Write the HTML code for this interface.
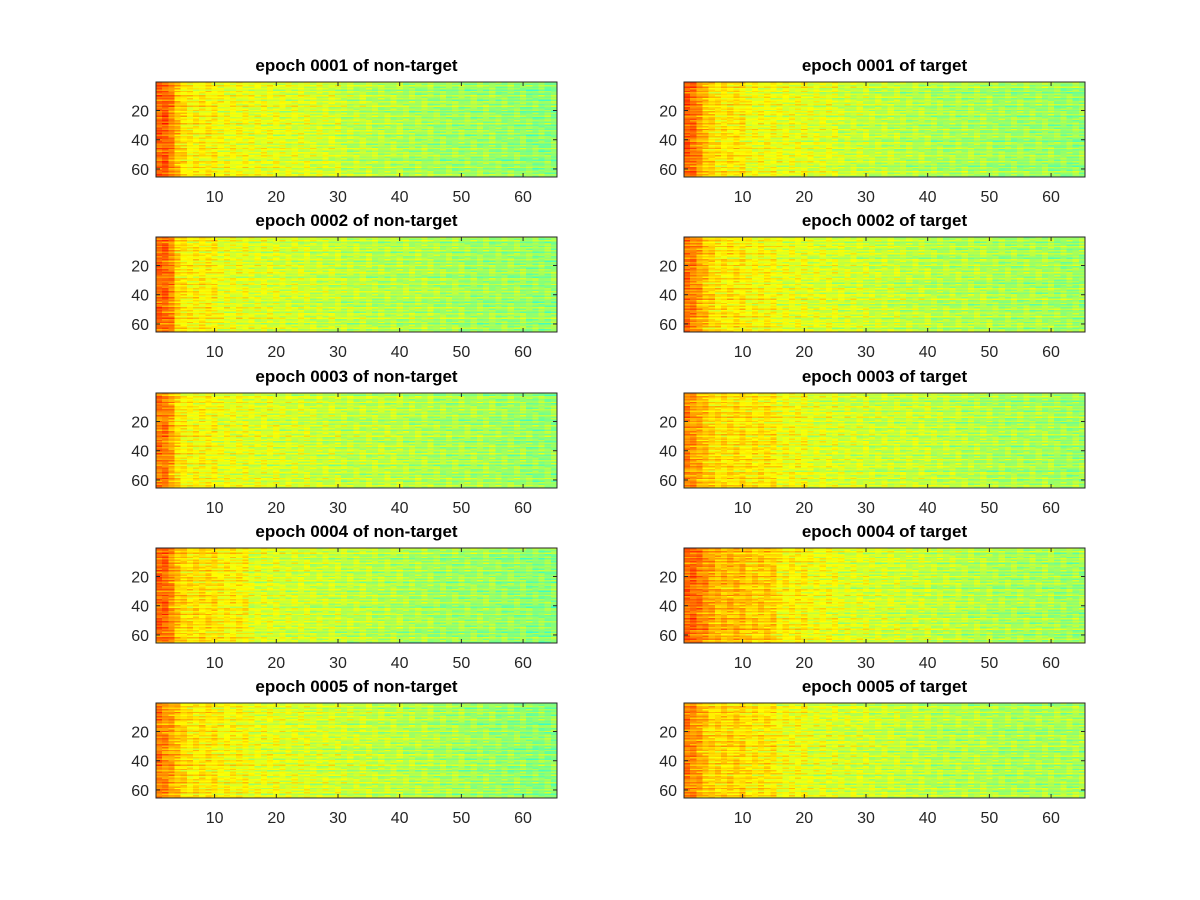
<!DOCTYPE html>
<html><head><meta charset="utf-8">
<style>
html,body{margin:0;padding:0;background:#fff;}
#fig{position:relative;width:1200px;height:900px;background:#fff;font-family:"Liberation Sans",sans-serif;}
canvas{position:absolute;image-rendering:pixelated;}
svg{position:absolute;left:0;top:0;}
</style></head>
<body>
<div id="fig">
<svg id="axes" width="1200" height="900"></svg>
</div>
<script>
// ---- data ----
const panelTitles = ["epoch 0001 of non-target","epoch 0001 of target","epoch 0002 of non-target","epoch 0002 of target","epoch 0003 of non-target","epoch 0003 of target","epoch 0004 of non-target","epoch 0004 of target","epoch 0005 of non-target","epoch 0005 of target"];
const xTicks = [10,20,30,40,50,60];
const yTicks = [20,40,60];
// levels for first 5 columns per panel
const leadLevels = [
 [0.77,0.78,0.74,0.68,0.65],[0.78,0.76,0.72,0.68,0.66],
 [0.77,0.77,0.74,0.66,0.64],[0.76,0.74,0.71,0.68,0.66],
 [0.75,0.75,0.71,0.65,0.63],[0.74,0.72,0.70,0.68,0.66],
 [0.77,0.77,0.73,0.68,0.66],[0.77,0.77,0.75,0.73,0.71],
 [0.75,0.73,0.71,0.68,0.66],[0.75,0.73,0.71,0.68,0.66]
];
// levels for column blocks 6-10, 11-15, ..., 61-65
const blockLevels = [
 [0.63,0.61,0.60,0.59,0.58,0.56,0.55,0.54,0.53,0.53,0.52,0.51],
 [0.64,0.61,0.60,0.59,0.57,0.56,0.55,0.54,0.54,0.53,0.53,0.52],
 [0.63,0.60,0.59,0.58,0.57,0.56,0.55,0.55,0.54,0.53,0.53,0.52],
 [0.64,0.62,0.60,0.59,0.58,0.57,0.56,0.55,0.55,0.54,0.54,0.53],
 [0.62,0.60,0.59,0.58,0.57,0.56,0.56,0.55,0.54,0.54,0.53,0.52],
 [0.65,0.64,0.61,0.59,0.58,0.57,0.57,0.56,0.55,0.54,0.54,0.53],
 [0.65,0.63,0.59,0.58,0.57,0.56,0.55,0.54,0.53,0.53,0.52,0.51],
 [0.69,0.67,0.63,0.61,0.59,0.58,0.57,0.56,0.55,0.54,0.54,0.53],
 [0.64,0.62,0.60,0.59,0.58,0.57,0.56,0.55,0.54,0.53,0.52,0.51],
 [0.66,0.64,0.61,0.59,0.58,0.57,0.56,0.55,0.55,0.54,0.54,0.54]
];
// per-row offsets (streaks)
const rowOffsets = [0.02,-0.03,0.05,-0.02,0.01,-0.06,0.03,0.00,-0.04,0.06,-0.01,0.02,-0.05,0.04,0.01,-0.02,0.07,-0.03,0.00,0.03,-0.06,0.02,-0.01,0.05,-0.04,0.01,0.03,-0.02,0.06,-0.05,0.00,0.02,-0.03,0.04,-0.01,0.05,-0.06,0.01,0.03,-0.02,0.00,0.04,-0.05,0.02,-0.03,0.06,0.01,-0.04,0.03,-0.01,0.05,-0.02,0.00,-0.06,0.04,0.02,-0.03,0.01,0.06,-0.04,0.00,0.03,-0.02,0.05,-0.01];
// cell texture
const cellJitter = [0.03,-0.05,0.01,0.06,-0.02,-0.07,0.04,0.00,-0.03,0.05,-0.06,0.02,0.07,-0.01,-0.04,0.03,0.00,-0.08,0.05,0.01,-0.02,0.06,-0.05,0.02,-0.03,0.04,-0.01,0.07,-0.06,0.01,0.00];

// ---- layout ----
const colX = [156,684], rowY = [82,237,393,548,703], W = 401, H = 95;
const NS = "http://www.w3.org/2000/svg";
const svg = document.getElementById('axes');
const fig = document.getElementById('fig');
function jet(v){
  const c = x=>Math.max(0,Math.min(1,x));
  return [c(1.5-Math.abs(4*v-3)),c(1.5-Math.abs(4*v-2)),c(1.5-Math.abs(4*v-1))].map(x=>Math.round(x*255));
}
function mk(tag,attrs,text){const e=document.createElementNS(NS,tag);for(const k in attrs)e.setAttribute(k,attrs[k]);if(text!==undefined)e.textContent=text;svg.appendChild(e);return e;}

panelTitles.forEach((title,p)=>{
  const x0 = colX[p%2], y0 = rowY[Math.floor(p/2)];
  const xs = v => x0 + (v-0.5)/65*W;
  const ys = v => y0 + (v-0.5)/65*H;
  const cv = document.createElement('canvas');
  cv.width=65; cv.height=65;
  cv.style.left=x0+'px'; cv.style.top=y0+'px'; cv.style.width=W+'px'; cv.style.height=H+'px';
  
  
  const ctx = cv.getContext('2d');
  for(let r=0;r<65;r++){
    for(let c=0;c<65;c++){
      const base = c<5 ? leadLevels[p][c] : blockLevels[p][Math.floor((c-5)/5)];
      let v = base + 0.8*rowOffsets[(r+13*p)%65] + 0.5*cellJitter[(c*5+r*3+p*7)%31];
      const [R,G,B]=jet(v);
      ctx.fillStyle=`rgb(${R},${G},${B})`;
      ctx.fillRect(c,r,1,1);
    }
  }
  fig.insertBefore(cv, svg);
  const fr = mk('rect',{x:x0,y:y0,width:W,height:H,fill:'none',stroke:'#262626','stroke-width':1});
  
  
  xTicks.forEach(t=>{
    const x=xs(t);
    mk('line',{x1:x,y1:y0+H,x2:x,y2:y0+H-4,stroke:'#262626'});
    mk('line',{x1:x,y1:y0,x2:x,y2:y0+4,stroke:'#262626'});
    const l=mk('text',{x:x,y:y0+H+25,'text-anchor':'middle','font-size':16,fill:'#262626'},t);
    
    
  });
  yTicks.forEach(t=>{
    const y=ys(t);
    mk('line',{x1:x0,y1:y,x2:x0+4,y2:y,stroke:'#262626'});
    mk('line',{x1:x0+W,y1:y,x2:x0+W-4,y2:y,stroke:'#262626'});
    const l=mk('text',{x:x0-7,y:y+6,'text-anchor':'end','font-size':16,fill:'#262626'},t);
    
    
  });
  const tt=mk('text',{x:x0+W/2,y:y0-11,'text-anchor':'middle','font-size':17,'font-weight':'bold',fill:'#000'},title);
  
  
});
</script>
</body></html>
